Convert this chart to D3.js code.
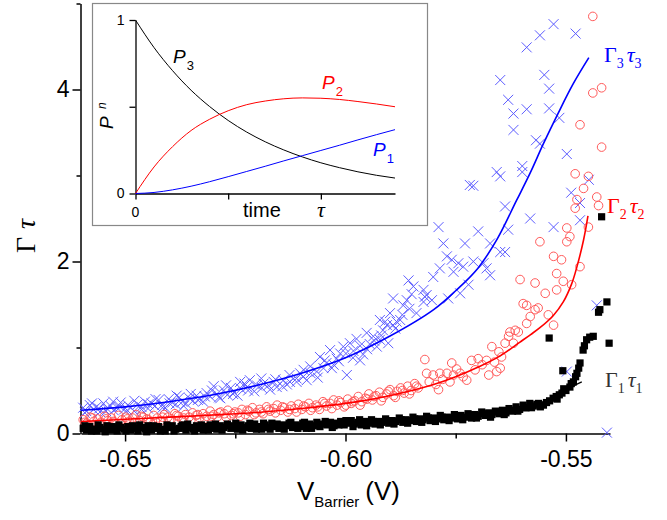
<!DOCTYPE html>
<html><head><meta charset="utf-8">
<script src="https://cdn.jsdelivr.net/npm/d3@7"></script>
<style>body{margin:0;background:#fff;}svg{display:block;}</style>
</head><body><svg id="c" width="667" height="520"></svg>
<script>
// ---------- axis ticks ----------
const xMajor = [-0.65, -0.60, -0.55];
const xMinor = [-0.625, -0.575];
const yMajor = [0, 2, 4];
const yMinor = [1, 3, 5];

// ---------- Gamma3 tau3 (blue crosses) ----------
const gt3 = [
[-0.6595,0.30],[-0.6588,0.26],[-0.6580,0.33],[-0.6572,0.28],[-0.6565,0.31],[-0.6557,0.25],[-0.6549,0.35],[-0.6541,0.29],
[-0.6533,0.32],[-0.6526,0.27],[-0.6518,0.30],[-0.6510,0.36],[-0.6502,0.28],[-0.6494,0.33],[-0.6487,0.30],[-0.6479,0.26],
[-0.6471,0.34],[-0.6463,0.31],[-0.6455,0.37],[-0.6448,0.29],[-0.6440,0.35],[-0.6432,0.32],[-0.6424,0.39],[-0.6416,0.33],
[-0.6409,0.30],[-0.6401,0.40],[-0.6393,0.36],[-0.6385,0.34],[-0.6377,0.42],[-0.6370,0.37],[-0.6362,0.35],[-0.6354,0.41],
[-0.6346,0.38],[-0.6338,0.44],[-0.6331,0.40],[-0.6323,0.37],[-0.6315,0.47],[-0.6307,0.43],[-0.6299,0.55],[-0.6292,0.46],
[-0.6284,0.41],[-0.6276,0.50],[-0.6268,0.45],[-0.6260,0.53],[-0.6253,0.48],[-0.6245,0.44],[-0.6237,0.52],[-0.6229,0.58],
[-0.6221,0.50],[-0.6217,0.62],[-0.6201,0.56],[-0.6190,0.53],[-0.6186,0.58],[-0.6171,0.51],[-0.6163,0.60],[-0.6156,0.54],
[-0.6141,0.62],[-0.6133,0.57],[-0.6126,0.60],[-0.6111,0.64],[-0.6103,0.70],[-0.6096,0.66],[-0.6088,0.62],[-0.6080,0.78],
[-0.6065,0.72],[-0.6058,0.89],[-0.6050,0.76],[-0.6043,0.82],[-0.6035,0.97],[-0.6027,0.80],[-0.6020,0.87],[-0.6012,0.93],
[-0.6005,1.01],[-0.5997,0.68],[-0.5990,1.05],[-0.5982,0.96],[-0.5975,1.10],[-0.5967,0.85],[-0.5960,0.92],[-0.5952,1.17],
[-0.5945,1.04],[-0.5937,1.13],[-0.5929,1.01],[-0.5922,1.32],[-0.5922,1.09],[-0.5915,1.20],[-0.5910,1.30],[-0.5906,1.26],
[-0.5899,1.40],[-0.5892,1.57],[-0.5892,1.26],[-0.5884,1.30],[-0.5876,1.32],[-0.5869,1.49],[-0.5861,1.55],[-0.5857,1.78],
[-0.5850,1.62],[-0.5846,1.71],[-0.5823,1.53],[-0.5823,1.67],[-0.5820,1.59],[-0.5816,1.61],[-0.5804,1.55],[-0.5801,1.82],
[-0.5789,2.40],[-0.5786,1.92],[-0.5778,2.21],[-0.5770,2.06],[-0.5767,1.57],[-0.5759,2.02],[-0.5755,1.88],[-0.5744,1.98],
[-0.5740,1.63],[-0.5733,1.94],[-0.5729,2.21],[-0.5721,1.73],[-0.5718,2.89],[-0.5710,2.88],[-0.5710,2.00],[-0.5699,2.35],
[-0.5687,1.98],[-0.5680,1.92],[-0.5672,1.84],[-0.5672,2.21],[-0.5657,3.04],[-0.5649,2.11],[-0.5649,4.11],[-0.5649,2.99],
[-0.5638,2.64],[-0.5638,2.11],[-0.5631,2.37],[-0.5631,3.88],[-0.5619,3.72],[-0.5619,3.53],[-0.5599,3.11],[-0.5599,3.04],
[-0.5589,3.77],[-0.5589,4.49],[-0.5581,2.50],[-0.5568,3.41],[-0.5559,3.37],[-0.5559,4.63],[-0.5549,4.17],[-0.5538,4.01],
[-0.5538,3.78],[-0.5528,4.76],[-0.5528,2.40],[-0.5515,3.67],[-0.5498,3.25],[-0.5498,0.72],[-0.5488,2.80],[-0.5478,4.65],
[-0.5468,2.68],[-0.5468,2.48],[-0.5448,2.95],[-0.5430,1.49],[-0.5407,0.01],
[-0.6591,0.24],[-0.6575,0.35],[-0.6559,0.29],[-0.6543,0.26],[-0.6527,0.37],[-0.6511,0.31],[-0.6495,0.27],[-0.6479,0.38],
[-0.6463,0.28],[-0.6447,0.34],[-0.6431,0.40],[-0.6415,0.30],[-0.6399,0.35],[-0.6383,0.44],[-0.6367,0.32],[-0.6351,0.46],
[-0.6335,0.39],[-0.6319,0.43],[-0.6303,0.50],[-0.6287,0.42],[-0.6271,0.56],[-0.6255,0.46],[-0.6239,0.60],[-0.6223,0.54],
[-0.6207,0.49],[-0.6191,0.64],[-0.6175,0.56],[-0.6159,0.63],[-0.6143,0.55],[-0.6127,0.68],[-0.6111,0.60],[-0.6095,0.74],
[-0.6079,0.70],[-0.6063,0.65],[-0.6047,0.85],[-0.6031,0.76],[-0.6015,0.84],[-0.5999,0.93],[-0.5983,0.88],[-0.5967,1.02],
[-0.5951,0.98],[-0.5935,1.08],[-0.5919,1.14],[-0.5903,1.05],[-0.5887,1.22],[-0.5871,1.38],[-0.5855,1.45],[-0.5839,1.40]
];

// ---------- Gamma2 tau2 (red circles) ----------
const gt2 = [
[-0.6595,0.16],[-0.6587,0.12],[-0.6579,0.19],[-0.6571,0.14],[-0.6563,0.17],[-0.6555,0.13],[-0.6547,0.20],[-0.6539,0.15],
[-0.6531,0.18],[-0.6523,0.13],[-0.6515,0.21],[-0.6507,0.16],[-0.6499,0.19],[-0.6491,0.14],[-0.6483,0.18],[-0.6475,0.22],
[-0.6467,0.15],[-0.6459,0.19],[-0.6451,0.17],[-0.6443,0.13],[-0.6435,0.21],[-0.6427,0.18],[-0.6419,0.15],[-0.6411,0.22],
[-0.6403,0.19],[-0.6395,0.17],[-0.6387,0.23],[-0.6379,0.20],[-0.6371,0.16],[-0.6363,0.22],[-0.6355,0.19],[-0.6347,0.24],
[-0.6339,0.21],[-0.6331,0.18],[-0.6323,0.23],[-0.6315,0.20],[-0.6307,0.26],[-0.6299,0.22],[-0.6291,0.19],[-0.6283,0.25],
[-0.6275,0.23],[-0.6267,0.27],[-0.6259,0.21],[-0.6251,0.25],[-0.6243,0.24],[-0.6235,0.28],[-0.6227,0.22],[-0.6219,0.26],
[-0.6211,0.30],[-0.6203,0.24],[-0.6195,0.28],[-0.6187,0.23],[-0.6179,0.31],[-0.6171,0.26],[-0.6163,0.29],[-0.6155,0.33],
[-0.6147,0.27],[-0.6139,0.30],[-0.6131,0.25],[-0.6123,0.32],[-0.6115,0.29],[-0.6107,0.34],[-0.6099,0.28],[-0.6091,0.31],
[-0.6083,0.35],[-0.6075,0.30],[-0.6067,0.33],[-0.6059,0.28],[-0.6051,0.37],[-0.6043,0.32],[-0.6035,0.35],[-0.6027,0.39],
[-0.6019,0.33],[-0.6011,0.36],[-0.6003,0.31],[-0.5995,0.40],[-0.5987,0.35],[-0.5979,0.38],[-0.5971,0.43],[-0.5963,0.37],
[-0.5955,0.41],[-0.5947,0.46],[-0.5939,0.39],[-0.5931,0.44],[-0.5923,0.48],[-0.5915,0.42],[-0.5907,0.46],[-0.5899,0.51],
[-0.5891,0.44],[-0.5883,0.49],[-0.5875,0.53],[-0.5867,0.47],[-0.5859,0.55],[-0.5851,0.50],[-0.5843,0.58],[-0.5835,0.53],
[-0.5820,0.86],[-0.5816,0.70],[-0.5810,0.60],[-0.5801,0.68],[-0.5795,0.57],[-0.5789,0.51],[-0.5786,0.70],[-0.5780,0.63],
[-0.5770,0.70],[-0.5763,0.60],[-0.5759,0.82],[-0.5755,0.68],[-0.5748,0.75],[-0.5740,0.70],[-0.5733,0.66],[-0.5725,0.62],
[-0.5714,0.85],[-0.5706,0.74],[-0.5699,0.87],[-0.5690,0.80],[-0.5680,0.85],[-0.5675,0.68],[-0.5668,1.01],[-0.5662,0.83],
[-0.5657,0.72],[-0.5652,0.95],[-0.5649,0.76],[-0.5646,0.89],[-0.5638,1.05],[-0.5630,1.13],[-0.5627,1.18],[-0.5619,1.05],
[-0.5615,1.20],[-0.5608,1.18],[-0.5604,1.79],[-0.5597,1.51],[-0.5589,1.49],[-0.5589,1.28],[-0.5581,1.36],[-0.5570,1.44],
[-0.5570,1.75],[-0.5563,1.46],[-0.5559,2.23],[-0.5547,1.63],[-0.5540,1.38],[-0.5528,1.26],[-0.5528,2.06],[-0.5521,1.67],
[-0.5521,1.86],[-0.5510,2.02],[-0.5506,1.77],[-0.5498,2.23],[-0.5498,2.39],[-0.5491,2.29],[-0.5487,1.73],[-0.5479,2.62],
[-0.5479,3.02],[-0.5475,2.72],[-0.5468,1.94],[-0.5468,3.59],[-0.5460,2.85],[-0.5449,2.40],[-0.5449,2.99],[-0.5439,4.85],
[-0.5439,3.96],[-0.5430,2.75],[-0.5426,2.65],[-0.5419,4.02],[-0.5419,3.33],
[-0.6591,0.13],[-0.6575,0.18],[-0.6559,0.11],[-0.6543,0.17],[-0.6527,0.14],[-0.6511,0.11],[-0.6495,0.17],[-0.6479,0.13],
[-0.6463,0.20],[-0.6447,0.16],[-0.6431,0.14],[-0.6415,0.19],[-0.6399,0.15],[-0.6383,0.21],[-0.6367,0.18],[-0.6351,0.15],
[-0.6335,0.22],[-0.6319,0.17],[-0.6303,0.20],[-0.6287,0.24],[-0.6271,0.19],[-0.6255,0.23],[-0.6239,0.20],[-0.6223,0.27],
[-0.6207,0.22],[-0.6191,0.25],[-0.6175,0.28],[-0.6159,0.24],[-0.6143,0.31],[-0.6127,0.28],[-0.6111,0.25],[-0.6095,0.32],
[-0.6079,0.27],[-0.6063,0.31],[-0.6047,0.35],[-0.6031,0.29],[-0.6015,0.38],[-0.5999,0.33],[-0.5983,0.37],[-0.5967,0.33],
[-0.5951,0.40],[-0.5935,0.43],[-0.5919,0.38],[-0.5903,0.49],[-0.5887,0.42],[-0.5871,0.50],[-0.5855,0.46],[-0.5839,0.55]
];

// ---------- Gamma1 tau1 (black squares) ----------
const gt1 = [
[-0.6595,0.06],[-0.6588,0.04],[-0.6580,0.08],[-0.6572,0.05],[-0.6565,0.03],[-0.6557,0.07],[-0.6549,0.05],[-0.6541,0.09],
[-0.6533,0.04],[-0.6526,0.06],[-0.6518,0.03],[-0.6510,0.07],[-0.6502,0.05],[-0.6494,0.08],[-0.6487,0.04],[-0.6479,0.06],
[-0.6471,0.03],[-0.6463,0.07],[-0.6455,0.05],[-0.6448,0.09],[-0.6440,0.04],[-0.6432,0.06],[-0.6424,0.08],[-0.6416,0.05],
[-0.6409,0.03],[-0.6401,0.07],[-0.6393,0.09],[-0.6385,0.05],[-0.6377,0.06],[-0.6370,0.10],[-0.6362,0.04],[-0.6354,0.07],
[-0.6346,0.05],[-0.6338,0.09],[-0.6331,0.06],[-0.6323,0.04],[-0.6315,0.08],[-0.6307,0.10],[-0.6299,0.06],[-0.6292,0.05],
[-0.6284,0.09],[-0.6276,0.07],[-0.6268,0.11],[-0.6260,0.06],[-0.6253,0.08],[-0.6245,0.05],[-0.6237,0.10],[-0.6229,0.07],
[-0.6221,0.09],[-0.6214,0.06],[-0.6206,0.11],[-0.6198,0.08],[-0.6190,0.05],[-0.6182,0.10],[-0.6175,0.07],[-0.6167,0.12],
[-0.6159,0.08],[-0.6151,0.06],[-0.6143,0.10],[-0.6136,0.09],[-0.6128,0.12],[-0.6120,0.07],[-0.6112,0.10],[-0.6104,0.08],
[-0.6097,0.12],[-0.6089,0.06],[-0.6081,0.11],[-0.6073,0.09],[-0.6065,0.13],[-0.6058,0.08],[-0.6050,0.11],[-0.6042,0.10],
[-0.6034,0.13],[-0.6026,0.09],[-0.6019,0.12],[-0.6011,0.14],[-0.6003,0.10],[-0.5995,0.12],[-0.5987,0.15],[-0.5980,0.11],
[-0.5972,0.13],[-0.5964,0.10],[-0.5956,0.14],[-0.5948,0.12],[-0.5941,0.16],[-0.5933,0.11],[-0.5925,0.14],[-0.5917,0.13],
[-0.5909,0.17],[-0.5902,0.12],[-0.5894,0.15],[-0.5886,0.14],[-0.5878,0.18],[-0.5870,0.13],[-0.5863,0.16],[-0.5855,0.15],
[-0.5847,0.19],[-0.5839,0.14],[-0.5831,0.17],[-0.5824,0.16],[-0.5816,0.20],[-0.5808,0.15],[-0.5800,0.18],[-0.5792,0.17],
[-0.5785,0.21],[-0.5777,0.16],[-0.5769,0.19],[-0.5761,0.18],[-0.5753,0.22],[-0.5746,0.17],[-0.5738,0.21],[-0.5730,0.19],
[-0.5722,0.23],[-0.5714,0.18],[-0.5707,0.22],[-0.5699,0.20],[-0.5691,0.25],[-0.5683,0.21],[-0.5675,0.24],[-0.5668,0.22],
[-0.5660,0.26],[-0.5652,0.23],[-0.5644,0.27],[-0.5636,0.24],[-0.5629,0.29],[-0.5621,0.26],[-0.5613,0.31],[-0.5605,0.28],
[-0.5597,0.33],[-0.5590,0.30],[-0.5582,0.35],[-0.5574,0.32],[-0.5566,0.34],[-0.5558,0.31],[-0.5551,0.33],[-0.5544,0.36],
[-0.5537,0.38],[-0.5529,0.41],[-0.5522,0.43],[-0.5520,0.40],[-0.5515,0.45],[-0.5509,0.47],[-0.5505,0.52],[-0.5500,0.50],
[-0.5491,0.54],[-0.5488,0.58],[-0.5483,0.60],[-0.5478,0.66],[-0.5475,0.70],[-0.5471,0.76],[-0.5468,0.82],[-0.5461,0.97],
[-0.5458,1.02],[-0.5453,1.09],[-0.5446,1.12],[-0.5438,1.13],
[-0.5538,1.11],[-0.5507,0.73],[-0.5419,2.52],[-0.5407,1.53],[-0.5423,1.44],[-0.5426,1.41],[-0.5402,1.05],
[-0.6591,0.09],[-0.6576,0.03],[-0.6561,0.10],[-0.6545,0.02],[-0.6529,0.08],[-0.6514,0.10],[-0.6498,0.03],[-0.6483,0.09],
[-0.6467,0.10],[-0.6451,0.02],[-0.6436,0.09],[-0.6420,0.03],[-0.6405,0.10],[-0.6389,0.03],[-0.6373,0.08],[-0.6358,0.11],
[-0.6342,0.03],[-0.6327,0.10],[-0.6311,0.04],[-0.6295,0.11],[-0.6280,0.04],[-0.6264,0.09],[-0.6249,0.12],[-0.6233,0.04],
[-0.6217,0.12],[-0.6202,0.05],[-0.6186,0.12],[-0.6171,0.05],[-0.6155,0.11],[-0.6139,0.05],[-0.6124,0.13],[-0.6108,0.06],
[-0.6093,0.13],[-0.6077,0.06],[-0.6061,0.10],[-0.6046,0.14],[-0.6030,0.07],[-0.6015,0.10],[-0.5999,0.15],[-0.5983,0.08],
[-0.5968,0.16],[-0.5952,0.09],[-0.5937,0.14],[-0.5921,0.10],[-0.5905,0.15],[-0.5890,0.11],[-0.5874,0.16],[-0.5859,0.12],
[-0.5843,0.17],[-0.5827,0.13],[-0.5812,0.18],[-0.5796,0.14],[-0.5781,0.19],[-0.5765,0.15],[-0.5749,0.20],[-0.5734,0.16],
[-0.5718,0.21],[-0.5703,0.18],[-0.5687,0.23],[-0.5671,0.19],[-0.5656,0.25],[-0.5640,0.22],[-0.5625,0.27],[-0.5609,0.26],
[-0.5593,0.30],[-0.5578,0.30],[-0.5562,0.35]
];

// ---------- fitted curves ----------
const fit3 = [[-0.66,0.27],[-0.65,0.31],[-0.64,0.37],[-0.63,0.45],[-0.62,0.56],[-0.61,0.70],[-0.60,0.88],[-0.59,1.13],
  [-0.58,1.44],[-0.575,1.66],[-0.570,1.92],[-0.5656,2.26],[-0.5612,2.71],[-0.5581,3.03],[-0.5551,3.37],
  [-0.5518,3.72],[-0.5483,4.07],[-0.5448,4.37]];
const fit2 = [[-0.66,0.14],[-0.65,0.165],[-0.64,0.19],[-0.63,0.215],[-0.62,0.245],[-0.61,0.29],[-0.60,0.35],[-0.59,0.44],
  [-0.58,0.57],[-0.575,0.66],[-0.57,0.77],[-0.565,0.90],[-0.5605,1.06],[-0.558,1.15],[-0.5559,1.23],[-0.5529,1.37],
  [-0.5506,1.53],[-0.5487,1.74],[-0.5476,1.92],[-0.546,2.25],[-0.545,2.53]];
const fit1 = [[-0.66,0.05],[-0.64,0.07],[-0.62,0.09],[-0.60,0.12],[-0.58,0.18],[-0.57,0.24],[-0.56,0.31],[-0.555,0.37],
  [-0.5505,0.46],[-0.5483,0.55],[-0.5464,0.60]];

// ---------- inset: populations vs time (time in units of tau) ----------
const insetT  = [0,0.1,0.2,0.3,0.4,0.5,0.6,0.7,0.8,0.9,1.0,1.1,1.2,1.3,1.4];
const insetP3 = [1,0.841,0.708,0.595,0.501,0.421,0.354,0.298,0.251,0.211,0.177,0.149,0.125,0.105,0.089];
const insetP2 = [0,0.153,0.270,0.363,0.428,0.477,0.512,0.533,0.546,0.551,0.549,0.542,0.530,0.516,0.500];
const insetP1 = [0,0.006,0.021,0.042,0.068,0.097,0.127,0.157,0.188,0.218,0.248,0.278,0.309,0.339,0.368];
const insetYTicks = [0, 0.5, 1];
const insetXTicks = [0, 0.5, 1];

const SANS = "'Liberation Sans', Arial, sans-serif";
const SERIF = "'Liberation Serif', 'Times New Roman', serif";

const svg = d3.select('#c');
const x = d3.scaleLinear().domain([-0.66, -0.54]).range([81, 610]);
const y = d3.scaleLinear().domain([0, 5]).range([433.5, 3.5]);

// ---------- main axes ----------
const gx = svg.append('g').attr('transform','translate(0,433.5)');
gx.call(d3.axisBottom(x).tickValues(xMajor).tickSize(8).tickPadding(9).tickSizeOuter(0).tickFormat(d3.format('.2f')));
gx.selectAll('.tick text').attr('font-size',23).attr('font-family',SANS).attr('fill','#000')
  .text(d => d3.format('.2f')(d).replace('\u2212','-'));
const gxm = svg.append('g').attr('transform','translate(0,433.5)');
gxm.call(d3.axisBottom(x).tickValues(xMinor).tickSize(5).tickSizeOuter(0).tickFormat(''));
gxm.select('.domain').remove();

const gy = svg.append('g').attr('transform','translate(80.5,0)');
gy.call(d3.axisLeft(y).tickValues(yMajor).tickSize(8).tickPadding(3).tickSizeOuter(0).tickFormat(d3.format('d')));
gy.selectAll('.tick text').attr('font-size',23).attr('font-family',SANS).attr('fill','#000');
const gym = svg.append('g').attr('transform','translate(80.5,0)');
gym.call(d3.axisLeft(y).tickValues(yMinor).tickSize(4).tickSizeOuter(0).tickFormat(''));
gym.select('.domain').remove();
svg.selectAll('.domain, .tick line').attr('stroke','#000').attr('stroke-width',1.5);

// ---------- markers ----------
svg.append('g').selectAll('path').data(gt3).join('path')
  .attr('d','M-5,-5L5,5M-5,5L5,-5')
  .attr('transform', d => `translate(${x(d[0])},${y(d[1])})`)
  .attr('stroke','#5d5dff').attr('stroke-width',1).attr('fill','none');

svg.append('g').selectAll('circle').data(gt2).join('circle')
  .attr('cx', d => x(d[0])).attr('cy', d => y(d[1])).attr('r',4.3)
  .attr('fill','none').attr('stroke','#ff5a5a').attr('stroke-width',1);

const line = d3.line().x(d => x(d[0])).y(d => y(d[1])).curve(d3.curveCatmullRom.alpha(0.5));
svg.append('path').datum(fit3).attr('d',line).attr('fill','none').attr('stroke','#0000ff').attr('stroke-width',1.6);
svg.append('path').datum(fit2).attr('d',line).attr('fill','none').attr('stroke','#ff0000').attr('stroke-width',1.6);
svg.append('path').datum(fit1).attr('d',line).attr('fill','none').attr('stroke','#000').attr('stroke-width',1.2);

svg.append('g').selectAll('rect').data(gt1).join('rect')
  .attr('x', d => x(d[0]) - 3.6).attr('y', d => y(d[1]) - 3.6)
  .attr('width',7.2).attr('height',7.2).attr('fill','#000');

// ---------- axis titles ----------
const yt = svg.append('text').attr('transform','translate(35,236) rotate(-90)')
  .attr('text-anchor','middle').attr('font-family',SERIF).attr('font-size',28).attr('fill','#000');
yt.append('tspan').text('Γ');
yt.append('tspan').attr('dx',8).attr('font-style','italic').text('τ');

const xt = svg.append('text').attr('x',297).attr('y',500)
  .attr('font-family',SANS).attr('font-size',26).attr('fill','#000');
xt.append('tspan').text('V');
xt.append('tspan').attr('font-size',15).attr('dy',7).text('Barrier');
xt.append('tspan').attr('dy',-7).attr('dx',6).text('(V)');

// ---------- right-side series labels ----------
function gLabel(px, py, n, color) {
  const t = svg.append('text').attr('x',px).attr('y',py).attr('font-family',SERIF)
    .attr('font-size',22).attr('fill',color);
  t.append('tspan').text('Γ');
  t.append('tspan').attr('font-size',14).attr('dy',6).text(n);
  t.append('tspan').attr('font-style','italic').attr('dy',-6).attr('dx',3).text('τ');
  t.append('tspan').attr('font-size',14).attr('dy',6).text(n);
}
gLabel(604, 62, '3', '#0000ff');
gLabel(607, 213, '2', '#ff0000');
gLabel(605, 387, '1', '#333333');

// ---------- inset ----------
const inset = svg.append('g');
inset.append('rect').attr('x',92.5).attr('y',3.5).attr('width',335).attr('height',222)
  .attr('fill','#fff').attr('stroke','#888').attr('stroke-width',1.2);
const xi = d3.scaleLinear().domain([0,1.4]).range([135.5,395]);
const yi = d3.scaleLinear().domain([0,1]).range([193.5,20]);
const gix = inset.append('g').attr('transform','translate(0,193.5)');
gix.call(d3.axisBottom(xi).tickValues(insetXTicks).tickSize(6).tickSizeOuter(0).tickFormat(''));
const giy = inset.append('g').attr('transform','translate(135.5,0)');
giy.call(d3.axisLeft(yi).tickValues(insetYTicks).tickSize(6).tickPadding(5).tickSizeOuter(0)
  .tickFormat(d => d === 0.5 ? '' : d3.format('d')(d)));
giy.selectAll('.tick text').attr('font-size',14).attr('font-family',SANS).attr('fill','#000');
inset.selectAll('.domain, .tick line').attr('stroke','#000').attr('stroke-width',1.3);

const iline = d3.line().x((d,i) => xi(insetT[i])).y(d => yi(d)).curve(d3.curveMonotoneX);
inset.append('path').datum(insetP3).attr('d',iline).attr('fill','none').attr('stroke','#000').attr('stroke-width',1);
inset.append('path').datum(insetP2).attr('d',iline).attr('fill','none').attr('stroke','#ff0000').attr('stroke-width',1);
inset.append('path').datum(insetP1).attr('d',iline).attr('fill','none').attr('stroke','#0000ff').attr('stroke-width',1);

inset.append('text').attr('x',xi(0)).attr('y',217).attr('text-anchor','middle')
  .attr('font-family',SANS).attr('font-size',14).text('0');
inset.append('text').attr('x',243).attr('y',217).attr('font-family',SANS).attr('font-size',20).text('time');
inset.append('text').attr('x',xi(1)).attr('y',217).attr('text-anchor','middle')
  .attr('font-family',SERIF).attr('font-style','italic').attr('font-size',22).text('τ');

function pLabel(px, py, n, color) {
  const t = inset.append('text').attr('x',px).attr('y',py).attr('font-family',SANS)
    .attr('font-style','italic').attr('font-size',19).attr('fill',color);
  t.append('tspan').text('P');
  t.append('tspan').attr('font-style','normal').attr('font-size',13).attr('dy',7).attr('dx',1).text(n);
}
pLabel(173, 63, '3', '#000');
pLabel(322, 89, '2', '#ff0000');
pLabel(373, 156, '1', '#0000ff');

const pn = inset.append('g').attr('transform','translate(113,129) rotate(-90)');
pn.append('text').attr('x',0).attr('y',0).attr('font-family',SANS).attr('font-style','italic')
  .attr('font-size',19).text('P');
pn.append('text').attr('x',20).attr('y',-7).attr('font-family',SANS).attr('font-style','italic')
  .attr('font-size',12).text('n');
</script></body></html>
